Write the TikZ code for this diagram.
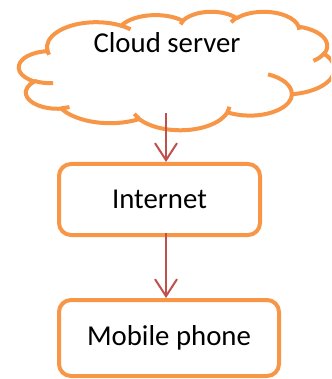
\documentclass[tikz,border=0pt]{standalone}
\usepackage{fontspec}
\setmainfont{Carlito}
\usetikzlibrary{positioning,arrows.meta}
\definecolor{accent}{HTML}{F79646}
\definecolor{arrowred}{HTML}{C0504D}
% one lobe of the cloud: x radius, y radius, start angle, sweep (angles as seen on screen)
\tikzset{puff/.style n args={4}{x radius=#1, y radius=#2,
		start angle={atan2(#1*sin(#3),#2*cos(#3))},
		delta angle={mod(atan2(#1*sin(#3+#4),#2*cos(#3+#4))-atan2(#1*sin(#3),#2*cos(#3))+720,360)}}}

\begin{document}
\begin{tikzpicture}[on grid,
		font=\fontsize{14.4}{17}\selectfont,
		block/.style={draw=accent, line width=2pt, rounded corners=6pt, fill=white, minimum height=35.5pt},
		cloudline/.style={draw=accent, line width=2pt, line join=round},
		flow/.style={draw=arrowred, line width=1pt, -{Straight Barb[length=8.5pt,width=11pt]}}]
			\clip (0,0) rectangle (165.5pt,-189.5pt);
			% cloud outline, then the short inner strokes
			\begin{scope}[shift={(9.45pt,-5.7pt)}, x=3.65pt, y=-1.371pt]
				\draw[cloudline, fill=white] (3.9,14.37)
				arc[puff={6.753}{9.19}{-190.48748}{123.78053}]
				arc[puff={5.333}{7.267}{-144.10238}{89.94523}]
				arc[puff={4.365}{5.945}{-145.80792}{99.72302}]
				arc[puff={4.857}{6.595}{-130.98607}{117.24173}]
				arc[puff={5.333}{7.273}{-78.70888}{109.02692}]
				arc[puff={6.775}{9.22}{-46.26725}{130.269}]
				arc[puff={5.785}{7.867}{0.62502}{114.03333}]
				arc[puff={6.752}{9.215}{22.4516}{115.17255}]
				arc[puff={7.72}{10.543}{66.24263}{75.71102}]
				arc[puff={4.36}{5.918}{-274.94208}{146.73557}]
				arc[puff={4.345}{5.945}{-246.8285}{152.51885}]
				-- cycle;
				\draw[cloudline]
				(4.693,26.177) arc[puff={4.345}{5.945}{86.742}{26.4295}]
				(6.928,34.899) arc[puff={4.36}{5.918}{73.61047}{11.44747}]
				(16.478,39.09) arc[puff={6.752}{9.215}{137.62415}{14.0811}]
				(28.827,34.751) arc[puff={6.752}{9.215}{6.45327}{15.99835}]
				(34.129,22.954) arc[puff={5.785}{7.867}{-70.29235}{70.91737}]
				(41.798,15.354) arc[puff={5.333}{7.273}{30.31803}{27.7515}]
				(38.324,5.426) arc[puff={4.857}{6.595}{-13.74433}{14.8589}]
				(29.078,3.952) arc[puff={4.857}{6.595}{-149.18145}{18.19537}]
				(22.141,4.72) arc[puff={4.365}{5.945}{-163.49427}{17.68635}]
				(14,5.192) arc[puff={6.753}{9.19}{-66.70695}{12.31935}]
				(4.127,15.789) arc[puff={6.753}{9.19}{158.1648}{18.43693}];
			\end{scope}
			\node (cloud) at (83.5pt,-21.5pt) {Cloud server};
			\node[block, minimum width=100.5pt] (internet) [below left=78.25pt and 3.75pt of cloud] {Internet};
			\node[block, minimum width=110pt, minimum height=38pt] (mobile) [below right=69.25pt and 4.75pt of internet] {Mobile phone};
			\coordinate (drop) at (83pt,-56.5pt);
			\draw[flow] (drop) -- (drop |- internet.north);
			\draw[flow] ([yshift=2pt]drop |- internet.south) -- (drop |- mobile.north);
		\end{tikzpicture}
\end{document}
